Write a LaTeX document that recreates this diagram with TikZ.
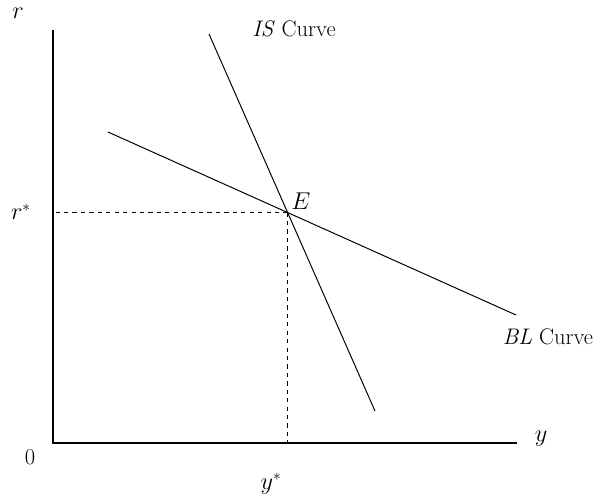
\documentclass[tikz,border=0pt]{standalone}
\usepackage{tikz}
\usetikzlibrary{positioning,calc}

\begin{document}
\begin{tikzpicture}[
  x=0.025cm, y=-0.025cm,
  font=\fontsize{16}{18}\selectfont,
  axis/.style={line width=0.8pt},
  curve/.style={line width=0.7pt},
  guide/.style={dashed, line width=0.7pt},
  lbl/.style={inner sep=1pt}]
  \useasboundingbox (0,0) rectangle (601,501);
  % axes
  \coordinate (O) at (53,443);
  \coordinate (ytop) at (53,30);
  \coordinate (xend) at (517,443);
  \draw[axis] (ytop) -- (O) -- (xend);
  % curves
  \coordinate (is1) at (209,34);
  \coordinate (is2) at (375,411);
  \coordinate (bl1) at (108,132);
  \coordinate (bl2) at (516,315);
  \draw[curve] (is1) -- (is2);
  \draw[curve] (bl1) -- (bl2);
  \coordinate (E) at (intersection of is1--is2 and bl1--bl2);
  \draw[guide] (E) -- (E -| O);
  \draw[guide] (E) -- (E |- O);
  % labels
  \node[lbl] (rlab) at (18,13) {$r$};
  \node[lbl] (ylab) at (541,439) {$y$};
  \node[lbl] (zero) at (30,457) {0};
  \node[lbl] (rstar) at (21,212) {$r^{*}$};
  \node[lbl] (ystar) at (271,484) {$y^{*}$};
  \node[lbl] (elab) at (301,201) {$E$};
  \node[lbl] (islab) at (294,29) {\textit{IS} Curve};
  \node[lbl] (bllab) at (548,337) {\textit{BL} Curve};
\end{tikzpicture}
\end{document}
